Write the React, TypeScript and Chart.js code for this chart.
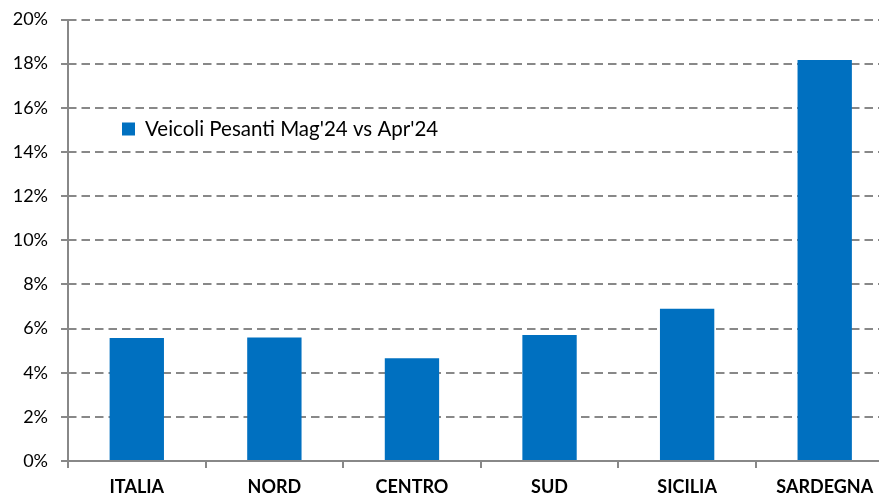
import React, { useEffect, useRef } from "react";
import { Chart, registerables } from "chart.js";

Chart.register(...registerables);

const categories = ["ITALIA", "NORD", "CENTRO", "SUD", "SICILIA", "SARDEGNA"];
const values = [5.57, 5.6, 4.65, 5.71, 6.9, 18.16];
const seriesLabel = "Veicoli Pesanti Mag'24 vs Apr'24";
const yTicks = [0, 2, 4, 6, 8, 10, 12, 14, 16, 18, 20];
const barColor = "#0070C0";
const gridColor = "#888888";
const FONT = "Lato, 'Open Sans', sans-serif";

const legendPlugin = {
  id: "innerLegend",
  afterDraw(chart: any) {
    const { ctx, chartArea } = chart;
    const ds = chart.data.datasets[0];
    const x = chartArea.left + 54;
    const y = chartArea.top + 103;
    ctx.save();
    ctx.fillStyle = ds.backgroundColor;
    ctx.fillRect(x, y, 13, 13);
    ctx.fillStyle = "#000";
    ctx.font = `20.5px ${FONT}`;
    ctx.textBaseline = "middle";
    ctx.textAlign = "left";
    ctx.fillText(ds.label, x + 23, y + 7);
    ctx.restore();
  },
};

const axesPlugin = {
  id: "solidAxes",
  afterDatasetsDraw(chart: any) {
    const { ctx, chartArea } = chart;
    ctx.save();
    ctx.strokeStyle = gridColor;
    ctx.lineWidth = 2;
    ctx.setLineDash([]);
    ctx.beginPath();
    ctx.moveTo(chartArea.left, chartArea.top);
    ctx.lineTo(chartArea.left, chartArea.bottom);
    ctx.moveTo(chartArea.left - 7, chartArea.bottom);
    ctx.lineTo(chartArea.right, chartArea.bottom);
    ctx.stroke();
    ctx.restore();
  },
};

export default function App() {
  const ref = useRef<HTMLCanvasElement>(null);
  useEffect(() => {
    if (!ref.current) return;
    const chart = new Chart(ref.current, {
      type: "bar",
      data: {
        labels: categories,
        datasets: [
          {
            label: seriesLabel,
            data: values,
            backgroundColor: barColor,
            borderWidth: 0,
            categoryPercentage: 1,
            barPercentage: 0.395,
          },
        ],
      },
      options: {
        animation: false,
        responsive: false,
        maintainAspectRatio: false,
        layout: { padding: { top: 19.5, right: 6.5, left: 0, bottom: 0 } },
        plugins: {
          legend: { display: false },
          tooltip: { enabled: false },
        },
        scales: {
          x: {
            offset: true,
            grid: {
              display: true,
              offset: true,
              drawOnChartArea: false,
              drawTicks: true,
              tickLength: 7,
              color: gridColor,
              lineWidth: 2,
            },
            border: { display: false },
            ticks: {
              color: "#000",
              font: { family: FONT, size: 18, weight: "bold" },
              padding: 8,
              maxRotation: 0,
            },
            afterFit(scale: any) {
              scale.height = 36;
              scale.paddingLeft = 0;
              scale.paddingRight = 0;
            },
          },
          y: {
            min: 0,
            max: 20,
            afterBuildTicks(scale: any) {
              scale.ticks = yTicks.map((v) => ({ value: v }));
            },
            grid: {
              color: gridColor,
              lineWidth: 2,
              tickLength: 7,
              drawTicks: true,
              tickBorderDash: [8.5, 5],
            },
            border: { display: false, dash: [8.5, 5] },
            ticks: {
              color: "#000",
              font: { family: FONT, size: 18 },
              padding: 13,
              callback: (v: any) => `${v}%`,
            },
            afterFit(scale: any) {
              scale.width = 68;
              scale.paddingTop = 0;
              scale.paddingBottom = 0;
            },
          },
        },
      },
      plugins: [legendPlugin, axesPlugin],
    } as any);
    return () => chart.destroy();
  }, []);
  return (
    <div
      style={{
        position: "fixed",
        left: 0,
        top: 0,
        width: 879,
        height: 497,
        overflow: "hidden",
        background: "#fff",
      }}
    >
      <canvas ref={ref} width={900} height={497} style={{ display: "block" }} />
    </div>
  );
}
